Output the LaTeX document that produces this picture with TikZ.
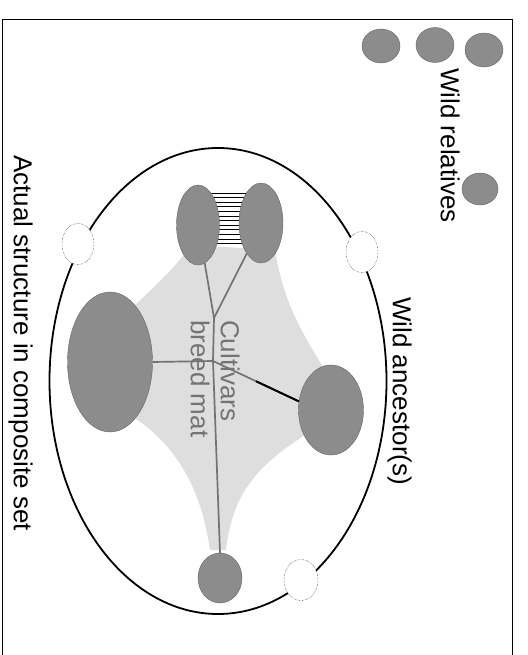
\documentclass[tikz,border=0pt]{standalone}
\usepackage{fontspec}
\setmainfont{Liberation Sans}
\usetikzlibrary{positioning,shapes,calc}

\definecolor{blobfill}{gray}{0.55}
\definecolor{blobline}{gray}{0.4}
\definecolor{matfill}{gray}{0.87}

\begin{document}
\begin{tikzpicture}[x=1pt, y=-1pt,
  blob/.style={ellipse, draw=blobline, fill=blobfill, inner sep=0pt},
  hole/.style={ellipse, draw, densely dotted, fill=white, inner sep=0pt,
    minimum width=32, minimum height=41},
  side/.style={rotate=-90, anchor=north west, inner sep=0pt,
    font=\fontsize{26}{30}\selectfont},
  link/.style={draw=gray!90!black, line width=1.7pt}]
  \useasboundingbox (0,0) rectangle (527,655);

  \draw[line width=1.8pt] (2.5,655) -- (2.5,19.5) -- (512.5,19.5) -- (512.5,655);

  \node[blob, minimum width=38, minimum height=34] (rel1) at (381,46) {};
  \node[blob, minimum width=38, minimum height=35] (rel2) at (435,45) {};
  \node[blob, minimum width=38, minimum height=34] (rel3) at (484,50) {};
  \node[blob, minimum width=36, minimum height=32] (rel4) at (480,189) {};
  \node[side] (relatives) at (460,68) {Wild relatives};

  \node[ellipse, draw, line width=1.8pt, inner sep=0pt,
    minimum width=337, minimum height=466] (set) at (218,381) {};

  \fill[matfill] (190,245) .. controls (175,270) and (150,290) .. (130,310)
    -- (130,415) .. controls (170,440) and (200,480) .. (210,550)
    -- (226,550) .. controls (232,500) and (250,470) .. (305,435)
    -- (325,370) .. controls (300,330) and (283,300) .. (275,250) -- cycle;

  \foreach \y in {193,197.6,...,248}
    \draw[line width=1pt] (205,\y) -- (255,\y);

  \node[blob, minimum width=43, minimum height=80] (a) at (198,225) {};
  \node[blob, minimum width=44, minimum height=80] (b) at (261,223) {};
  \node[blob, minimum width=85, minimum height=140] (c) at (110,362) {};
  \node[blob, minimum width=65, minimum height=90] (d) at (331,410) {};
  \node[blob, minimum width=44, minimum height=50] (e) at (220,578) {};

  \node[hole] (h1) at (78,244) {};
  \node[hole] (h2) at (362,252) {};
  \node[hole, minimum width=34] (h3) at (301,580) {};

  \node[side, text=gray!90!black, align=left] (cultivars) at (240,320)
    {Cultivars\\breed mat};

  \coordinate (j1) at (214,318);
  \coordinate (j2) at (213,361);
  \draw[link] (a.-80) -- (j1) -- (j2) -- (e.north);
  \draw[link] (b.-115) -- (j1);
  \draw[link] (c.east) -- (j2);
  \draw[link] (j2) -- (d.165);
  \draw[line width=2pt] ($(j2)!0.5!(d.165)$) -- (d.165);

  \node[side] (ancestors) at (412,297) {Wild ancestor(s)};
  \node[side] (actual) at (33,155) {Actual structure in composite set};
\end{tikzpicture}
\end{document}
